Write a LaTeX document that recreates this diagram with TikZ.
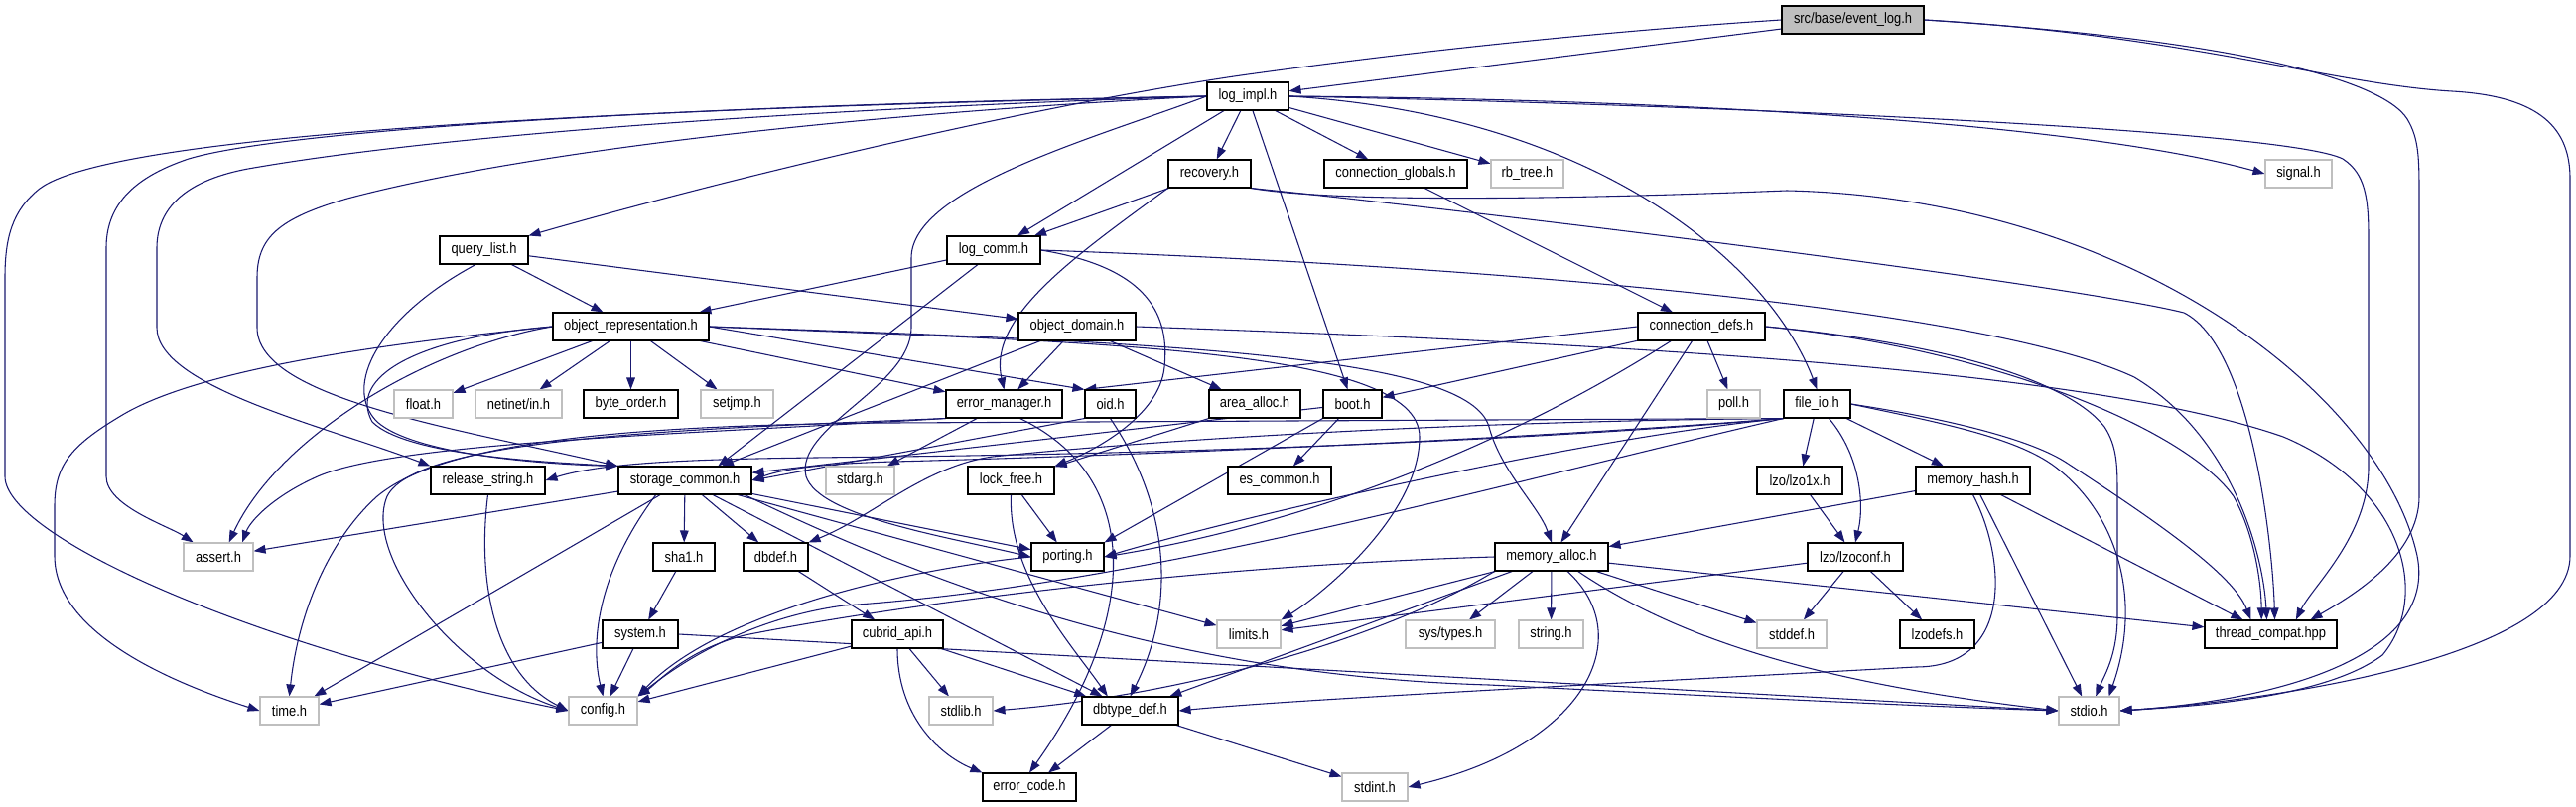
\documentclass[tikz,border=0pt]{standalone}
\usepackage{fontspec}
\newfontfamily\nf{Liberation Sans}[FakeStretch=0.86]
\usetikzlibrary{arrows.meta,backgrounds}
\definecolor{edgec}{HTML}{191970}
\definecolor{greyb}{HTML}{BFBFBF}
\begin{document}
\begin{tikzpicture}[x=0.75pt,y=-0.75pt,
  nd/.style={draw=black, line width=0.8pt, rectangle, inner sep=0pt, minimum height=21pt, fill=white, text=black, font=\nf\fontsize{11.25pt}{13pt}\selectfont},
  sys/.style={nd, draw=greyb},
  wd/.style={minimum width=#1*0.75pt},
  ed/.style={draw=edgec, line width=0.8pt, -{Triangle[length=9pt,width=6.5pt]}}]
\useasboundingbox (0,0) rectangle (2595,813);
% nodes
\node[nd, fill=greyb, wd=143] (evlog) at (1866.5,20) {src/base/event\_log.h};
\node[nd,wd=82] (logimpl) at (1257,97) {log\_impl.h};
\node[nd,wd=83] (recov) at (1218.5,175) {recovery.h};
\node[nd,wd=144] (cglob) at (1406,175) {connection\_globals.h};
\node[sys,wd=73] (rbtree) at (1538.5,175) {rb\_tree.h};
\node[sys,wd=67] (signal) at (2315.5,175) {signal.h};
\node[nd,wd=89] (qlist) at (487.5,252) {query\_list.h};
\node[nd,wd=94] (logcomm) at (1001,252) {log\_comm.h};
\node[nd,wd=157] (objrep) at (635.5,329) {object\_representation.h};
\node[nd,wd=118] (objdom) at (1085,329) {object\_domain.h};
\node[nd,wd=128] (cdefs) at (1714,329) {connection\_defs.h};
\node[sys,wd=59] (float) at (426.5,407) {float.h};
\node[sys,wd=87] (netinet) at (522.5,407) {netinet/in.h};
\node[nd,wd=95] (byteorder) at (635.5,407) {byte\_order.h};
\node[sys,wd=73] (setjmp) at (742.5,407) {setjmp.h};
\node[nd,wd=117] (errmgr) at (1011.5,407) {error\_manager.h};
\node[nd,wd=51] (oid) at (1118.5,407) {oid.h};
\node[nd,wd=92] (areaalloc) at (1264,407) {area\_alloc.h};
\node[nd,wd=59] (boot) at (1362.5,407) {boot.h};
\node[sys,wd=53] (poll) at (1746.5,407) {poll.h};
\node[nd,wd=67] (fileio) at (1830.5,407) {file\_io.h};
\node[nd,wd=115] (relstr) at (491.5,484) {release\_string.h};
\node[nd,wd=134] (storcom) at (690,484) {storage\_common.h};
\node[sys,wd=69] (stdarg) at (866.5,484) {stdarg.h};
\node[nd,wd=87] (lockfree) at (1018.5,484) {lock\_free.h};
\node[nd,wd=104] (escommon) at (1289,484) {es\_common.h};
\node[nd,wd=86] (lzo1x) at (1813,484) {lzo/lzo1x.h};
\node[nd,wd=115] (memhash) at (1987.5,484) {memory\_hash.h};
\node[sys,wd=70] (assert) at (220,561) {assert.h};
\node[nd,wd=62] (sha1) at (689,561) {sha1.h};
\node[nd,wd=65] (dbdef) at (781.5,561) {dbdef.h};
\node[nd,wd=73] (porting) at (1075.5,561) {porting.h};
\node[nd,wd=114] (memalloc) at (1563,561) {memory\_alloc.h};
\node[nd,wd=96] (lzoconf) at (1869,561) {lzo/lzoconf.h};
\node[nd,wd=76] (system) at (645,639) {system.h};
\node[nd,wd=92] (cubapi) at (904,639) {cubrid\_api.h};
\node[sys,wd=64] (limits) at (1258,639) {limits.h};
\node[sys,wd=90] (systypes) at (1461,639) {sys/types.h};
\node[sys,wd=65] (string) at (1562.5,639) {string.h};
\node[sys,wd=70] (stddef) at (1805,639) {stddef.h};
\node[nd,wd=75] (lzodefs) at (1951.5,639) {lzodefs.h};
\node[nd,wd=133] (threadc) at (2287.5,639) {thread\_compat.hpp};
\node[sys,wd=59] (time) at (291.5,716) {time.h};
\node[sys,wd=69] (config) at (607.5,716) {config.h};
\node[sys,wd=64] (stdlib) at (968,716) {stdlib.h};
\node[nd,wd=97] (dbtype) at (1138.5,716) {dbtype\_def.h};
\node[sys,wd=61] (stdio) at (2104.5,716) {stdio.h};
\node[sys,wd=66] (stdint) at (1385,793) {stdint.h};
\node[nd,wd=94] (errcode) at (1037,793) {error\_code.h};
% edges
\begin{scope}[on background layer]
\fill[white] (0,0) rectangle (2595,813);
% event_log
\draw[ed] (evlog) -- (logimpl);
\draw[ed] (evlog.west) .. controls (1550,36) and (1350,62) .. (1250,76) .. controls (1050,105) and (750,175) .. (qlist.north east);
\draw[ed] (evlog.east) .. controls (2250,40) and (2400,80) .. (2425,120) .. controls (2437,140) and (2437,160) .. (2437,200) -- (2437,500) .. controls (2437,560) and (2370,600) .. ([xshift=30pt]threadc.north);
\draw[ed] (evlog.east) .. controls (2200,35) and (2350,85) .. (2470,92) .. controls (2560,97) and (2589,130) .. (2589,180) -- (2589,560) .. controls (2589,660) and (2300,705) .. (stdio.east);
% log_impl
\draw[ed] (logimpl) -- (recov);
\draw[ed] (logimpl) -- (logcomm);
\draw[ed] (logimpl) -- (cglob);
\draw[ed] (logimpl) -- (rbtree);
\draw[ed] (logimpl) -- (boot);
\draw[ed] (logimpl.east) .. controls (1700,100) and (2100,125) .. (signal.west);
\draw[ed] (logimpl.east) .. controls (1600,115) and (1780,260) .. (fileio.north);
\draw[ed] (logimpl.east) .. controls (1700,105) and (2300,130) .. (2360,160) .. controls (2383,175) and (2386,200) .. (2386,240) -- (2386,470) .. controls (2386,540) and (2330,590) .. ([xshift=19pt]threadc.north);
\draw[ed] (logimpl.west) .. controls (700,108) and (120,130) .. (40,190) .. controls (12,212) and (5,240) .. (5,280) -- (5,480) .. controls (5,540) and (250,650) .. (config.west);
\draw[ed] (logimpl.west) .. controls (700,106) and (290,130) .. (190,160) .. controls (130,180) and (107,210) .. (107,250) -- (107,480) .. controls (107,510) and (170,530) .. ([xshift=-19pt]assert.north);
\draw[ed] (logimpl.west) .. controls (750,112) and (420,140) .. (250,170) .. controls (180,183) and (158,215) .. (158,250) -- (158,330) .. controls (158,390) and (330,430) .. (relstr.north west);
\draw[ed] (logimpl.west) .. controls (800,118) and (500,160) .. (350,200) .. controls (280,220) and (259,240) .. (259,280) -- (259,330) .. controls (259,400) and (450,430) .. (storcom.north west);
\draw[ed] (logimpl.west) .. controls (1100,140) and (918,190) .. (918,260) -- (918,330) .. controls (918,390) and (800,430) .. (812,480) .. controls (825,520) and (950,540) .. (porting.west);
% recovery
\draw[ed] (recov) -- (logcomm);
\draw[ed] (recov.south west) .. controls (1080,260) and (995,320) .. (errmgr.north);
\draw[ed] (recov.south east) .. controls (1600,225) and (2100,290) .. (2200,315) .. controls (2270,350) and (2290,560) .. ([xshift=3pt]threadc.north);
\draw[ed] (recov.south east) .. controls (1350,205) and (1600,200) .. (1800,192) .. controls (2150,200) and (2400,400) .. (2435,560) .. controls (2455,660) and (2300,705) .. (stdio.east);
% connection_globals
\draw[ed] (cglob) -- (cdefs);
% query_list
\draw[ed] (qlist) -- (objrep);
\draw[ed] (qlist) -- (objdom);
\draw[ed] (qlist.-120) .. controls (380,320) and (345,390) .. (380,425) .. controls (420,460) and (560,468) .. (storcom.north west);
% log_comm
\draw[ed] (logcomm) -- (objrep);
\draw[ed] ([xshift=-12pt]logcomm.south) -- ([xshift=25pt]storcom.north);
\draw[ed] (logcomm.east) .. controls (1160,270) and (1178,320) .. (1173,370) .. controls (1168,420) and (1100,455) .. (lockfree.north east);
\draw[ed] (logcomm.east) .. controls (1500,268) and (2000,310) .. (2150,380) .. controls (2250,440) and (2280,560) .. ([xshift=-3pt]threadc.north);
% object_representation
\draw[ed] (objrep) -- (float);
\draw[ed] (objrep) -- (netinet);
\draw[ed] (objrep) -- (byteorder);
\draw[ed] (objrep) -- (setjmp);
\draw[ed] (objrep) -- (errmgr);
\draw[ed] (objrep.east) -- (oid.north west);
\draw[ed] (objrep.west) .. controls (400,345) and (200,370) .. (120,420) .. controls (70,450) and (55,470) .. (55,510) -- (55,560) .. controls (55,640) and (180,690) .. (time.west);
\draw[ed] (objrep.west) .. controls (430,350) and (280,440) .. ([xshift=8pt]assert.north);
\draw[ed] (objrep.west) .. controls (420,340) and (350,380) .. (375,425) .. controls (410,460) and (560,466) .. (storcom.north west);
\draw[ed] (objrep.east) .. controls (1200,345) and (1480,360) .. (1500,430) .. controls (1512,475) and (1550,510) .. (memalloc.north);
\draw[ed] (objrep.east) .. controls (1100,345) and (1430,350) .. (1430,440) .. controls (1430,520) and (1330,600) .. (limits.north east);
% object_domain
\draw[ed] (objdom) -- (errmgr);
\draw[ed] (objdom) -- (areaalloc);
\draw[ed] (objdom) -- (storcom);
\draw[ed] (objdom.east) .. controls (1600,345) and (2100,370) .. (2300,440) .. controls (2420,490) and (2450,600) .. (2400,660) .. controls (2340,705) and (2200,712) .. (stdio.east);
% connection_defs
\draw[ed] (cdefs.west) -- (oid.north west);
\draw[ed] (cdefs) -- (boot);
\draw[ed] (cdefs) -- (poll);
\draw[ed] (cdefs) -- (memalloc);
\draw[ed] ([xshift=-23pt]cdefs.south) .. controls (1500,460) and (1300,530) .. (porting.east);
\draw[ed] (cdefs.east) .. controls (2000,350) and (2200,430) .. (2250,500) .. controls (2272,540) and (2278,590) .. ([xshift=-7pt]threadc.north);
\draw[ed] (cdefs.east) .. controls (1950,345) and (2080,380) .. (2120,430) .. controls (2133,450) and (2133,470) .. (2133,500) -- (2133,620) .. controls (2133,660) and (2120,680) .. ([xshift=5pt]stdio.north);
% boot
\draw[ed] (boot) -- (escommon);
\draw[ed] (boot.south west) -- (porting.north east);
\draw[ed] (boot) -- (storcom);
% error_manager
\draw[ed] (errmgr) -- (stdarg);
\draw[ed] ([xshift=12pt]errmgr.south) .. controls (1150,480) and (1150,620) .. (errcode.north);
\draw[ed] (errmgr.south west) .. controls (700,432) and (420,440) .. (390,500) .. controls (365,560) and (460,680) .. (config.west);
\draw[ed] (errmgr.south west) .. controls (700,437) and (400,445) .. (320,480) .. controls (275,500) and (252,525) .. ([xshift=18pt]assert.north);
% oid
\draw[ed] (oid.south west) -- (storcom.east);
\draw[ed] (oid.south) .. controls (1185,520) and (1180,620) .. (dbtype.north);
% area_alloc, lock_free
\draw[ed] (areaalloc) -- (lockfree);
\draw[ed] (lockfree) -- (porting);
\draw[ed] (lockfree.south) .. controls (1015,580) and (1080,650) .. ([xshift=-17pt]dbtype.north);
% storage_common
\draw[ed] (storcom) -- (assert);
\draw[ed] (storcom) -- (time);
\draw[ed] (storcom) -- (sha1);
\draw[ed] (storcom) -- (dbdef);
\draw[ed] (storcom) -- (dbtype);
\draw[ed] (storcom) -- (limits);
\draw[ed] (storcom) -- (porting);
\draw[ed] ([xshift=-22pt]storcom.south) .. controls (600,580) and (595,650) .. (config.north);
\draw[ed] ([xshift=45pt]storcom.south) .. controls (900,570) and (1150,680) .. (1500,690) .. controls (1800,705) and (1950,712) .. (stdio.west);
% sha1, system
\draw[ed] (sha1) -- (system);
\draw[ed] (system) -- (time);
\draw[ed] (system) -- (config);
\draw[ed] (system.east) -- (stdio.west);
% dbdef, cubrid_api
\draw[ed] (dbdef) -- (cubapi);
\draw[ed] (cubapi) -- (stdlib);
\draw[ed] (cubapi) -- (dbtype);
\draw[ed] (cubapi) -- (config);
\draw[ed] (cubapi.south) .. controls (904,720) and (945,760) .. (errcode.north west);
% porting, release_string
\draw[ed] (porting.west) .. controls (900,575) and (720,620) .. (config.north east);
\draw[ed] (relstr.south) .. controls (480,590) and (500,680) .. (config.west);
% dbtype_def
\draw[ed] (dbtype) -- (errcode);
\draw[ed] (dbtype) -- (stdint);
% file_io
\draw[ed] (fileio) -- (lzo1x);
\draw[ed] (fileio) -- (memhash);
\draw[ed] ([xshift=9pt]fileio.south) .. controls (1875,460) and (1878,510) .. (lzoconf.north);
\draw[ed] (fileio.east) .. controls (1950,420) and (2040,440) .. (2080,465) .. controls (2180,530) and (2250,580) .. ([xshift=-15pt]threadc.north);
\draw[ed] (fileio.east) .. controls (1950,425) and (2030,440) .. (2070,470) .. controls (2130,515) and (2160,600) .. ([xshift=15pt]stdio.north);
\draw[ed] (fileio.south west) .. controls (1600,440) and (1250,520) .. (porting.east);
\draw[ed] (fileio.south west) .. controls (1500,445) and (1100,460) .. (900,465) .. controls (830,467) and (790,472) .. (storcom.east);
\draw[ed] (fileio.south west) .. controls (1500,448) and (1100,458) .. (900,460) .. controls (750,462) and (620,462) .. (relstr.east);
\draw[ed] (fileio.south west) .. controls (1500,424) and (1200,440) .. (1000,460) .. controls (930,470) and (880,520) .. (dbdef.north east);
\draw[ed] (fileio.south west) -- (900,426) .. controls (600,428) and (440,450) .. (380,500) .. controls (330,545) and (300,620) .. (time.north);
\draw[ed] (fileio.south west) .. controls (1500,490) and (1150,590) .. (850,610) .. controls (740,625) and (670,680) .. (config.north east);
% memory_hash
\draw[ed] (memhash) -- (memalloc);
\draw[ed] (memhash) -- (threadc);
\draw[ed] (memhash) -- (stdio);
\draw[ed] (memhash.south) .. controls (2020,560) and (2030,672) .. (1930,672) .. controls (1600,690) and (1300,705) .. (dbtype.east);
% memory_alloc
\draw[ed] (memalloc) -- (systypes);
\draw[ed] (memalloc) -- (string);
\draw[ed] (memalloc) -- (stddef);
\draw[ed] (memalloc) -- (limits);
\draw[ed] (memalloc) -- (threadc);
\draw[ed] (memalloc) -- (dbtype);
\draw[ed] (memalloc.south west) .. controls (1400,640) and (1200,700) .. (stdlib.east);
\draw[ed] (memalloc.west) .. controls (1200,570) and (900,610) .. (750,640) .. controls (690,655) and (660,690) .. (config.north east);
\draw[ed] ([xshift=20pt]memalloc.south) .. controls (1700,650) and (1850,690) .. (stdio.west);
\draw[ed] ([xshift=12pt]memalloc.south) .. controls (1650,640) and (1600,750) .. (stdint.east);
% lzo
\draw[ed] (lzo1x) -- (lzoconf);
\draw[ed] (lzoconf) -- (stddef);
\draw[ed] (lzoconf) -- (lzodefs);
\draw[ed] (lzoconf) -- (limits);
\end{scope}
\end{tikzpicture}
\end{document}
